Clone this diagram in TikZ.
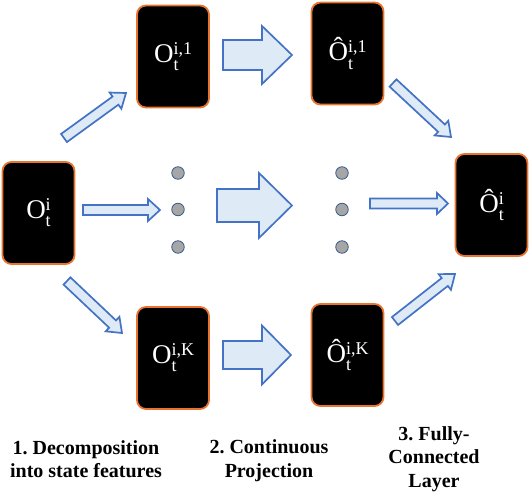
\documentclass[tikz,border=0pt]{standalone}
\usepackage{fontspec}
\setmainfont{Liberation Serif}
\usetikzlibrary{calc}
\definecolor{boxorange}{HTML}{E8742F}
\definecolor{arrline}{HTML}{4472C4}
\definecolor{arrfill}{HTML}{DEEBF7}
\definecolor{dotfill}{HTML}{A6A6A6}
\definecolor{dotline}{HTML}{3B5E8C}
\newcommand\Olab[2]{#1\rlap{\raisebox{-0.3em}{\fontsize{18}{18}\selectfont t}}\raisebox{0.3em}{\fontsize{18}{18}\selectfont #2}}
\newcommand\blockarr[5]{%
  \coordinate (#1-h) at ($(#2)!#5!(#1)$);
  \draw[barrow] ($(#1)!#3!90:(#2)$) -- ($(#1-h)!#3!90:(#2)$) -- ($(#1-h)!#4!90:(#2)$) -- (#2)
    -- ($(#1-h)!#4!-90:(#2)$) -- ($(#1-h)!#3!-90:(#2)$) -- ($(#1)!#3!-90:(#2)$) -- cycle;
}
\frenchspacing
\begin{document}
\begin{tikzpicture}[x=1pt,y=-1pt,
  statebox/.style={rectangle, rounded corners=9pt, fill=black, draw=boxorange, line width=1.8pt,
    minimum width=72pt, minimum height=102pt, text=white, inner sep=0pt,
    font=\fontsize{27}{27}\selectfont},
  barrow/.style={draw=arrline, fill=arrfill, line width=1.7pt, line join=miter},
  dotnode/.style={circle, fill=dotfill, draw=dotline, line width=0.8pt, minimum size=12.5pt, inner sep=0pt},
  caption/.style={align=center, font=\bfseries\fontsize{20}{23.5}\selectfont}]
\useasboundingbox (0,0) rectangle (530,494);
% boxes
\node[statebox] (A) at (38.5,213) {\Olab{O}{i}};
\node[statebox] (B1) at (173,56.5) {\Olab{O}{i,1}};
\node[statebox] (BK) at (173,358) {\Olab{O}{i,K}};
\node[statebox] (C1) at (347.5,53.5) {\Olab{Ô}{i,1}};
\node[statebox] (CK) at (347.5,355) {\Olab{Ô}{i,K}};
\node[statebox] (D) at (491.5,205) {\Olab{Ô}{i}};
% dots
\node[dotnode] (d1) at (178,173) {};
\node[dotnode] (d2) at (178,209.5) {};
\node[dotnode] (d3) at (178,247) {};
\node[dotnode] (d4) at (342,173) {};
\node[dotnode] (d5) at (342,209.5) {};
\node[dotnode] (d6) at (342,247) {};
% arrow end points
\coordinate (a1) at (64,138);   \coordinate (a1e) at (126,93);
\coordinate (a2) at (67,281);   \coordinate (a2e) at (122,333);
\coordinate (a3) at (83,210);   \coordinate (a3e) at (160,210);
\coordinate (b1) at (223,55);   \coordinate (b1e) at (292,55);
\coordinate (b2) at (217,205.5);\coordinate (b2e) at (292,205.5);
\coordinate (b3) at (223,355);  \coordinate (b3e) at (291,355);
\coordinate (c1) at (393,83);   \coordinate (c1e) at (451,137);
\coordinate (c2) at (370,203.5);\coordinate (c2e) at (448,203.5);
\coordinate (c3) at (395,321);  \coordinate (c3e) at (455,274);
% arrows
\blockarr{a1}{a1e}{5pt}{10pt}{13pt}
\blockarr{a2}{a2e}{5pt}{10pt}{13pt}
\blockarr{a3}{a3e}{5pt}{11pt}{12pt}
\blockarr{b1}{b1e}{15pt}{29pt}{30pt}
\blockarr{b2}{b2e}{16.5pt}{32.5pt}{33pt}
\blockarr{b3}{b3e}{14pt}{29.5pt}{29pt}
\blockarr{c1}{c1e}{5pt}{10pt}{13pt}
\blockarr{c2}{c2e}{5pt}{10.5pt}{11pt}
\blockarr{c3}{c3e}{5pt}{10pt}{13pt}
% captions
\node[caption] (L1) at (86,459) {1. Decomposition\\into state features};
\node[caption] (L2) at (269,460.5) {2. Continuous\\Projection};
\node[caption] (L3) at (434,459) {3. Fully-\\Connected\\Layer};
\end{tikzpicture}
\end{document}
